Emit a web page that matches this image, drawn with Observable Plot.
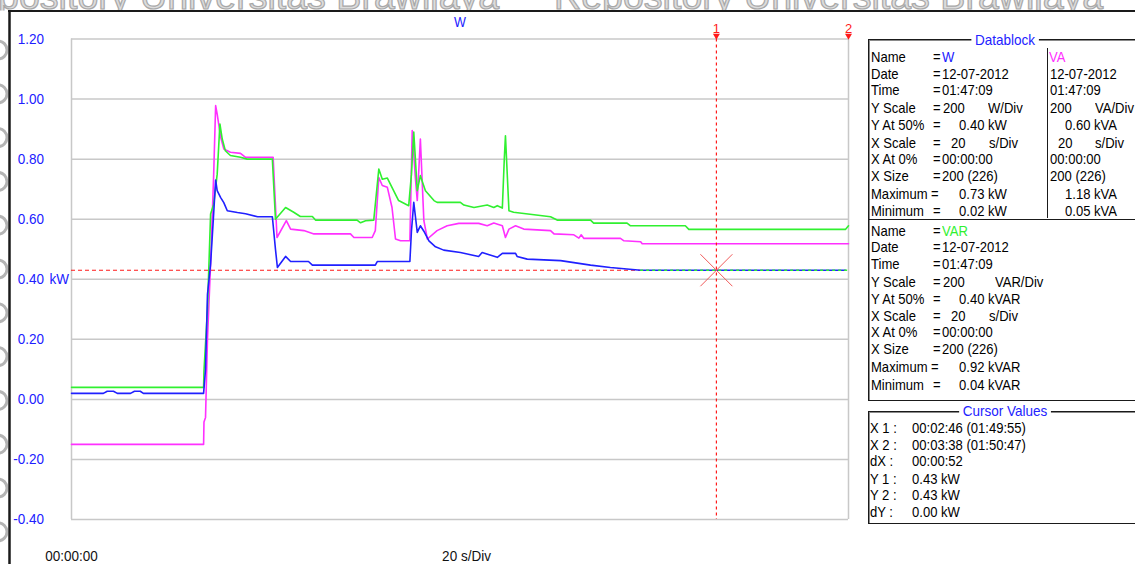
<!DOCTYPE html>
<html><head><meta charset="utf-8">
<script src="https://cdn.jsdelivr.net/npm/d3@7"></script>
<script src="https://cdn.jsdelivr.net/npm/@observablehq/plot@0.6"></script>
<style>
body{margin:0;background:#fff;}
#wrap{position:relative;width:1135px;height:564px;overflow:hidden;background:#fff;font-family:"Liberation Sans",Arial,sans-serif;}
#chart{position:absolute;left:0;top:0;}
#deco{position:absolute;left:0;top:0;pointer-events:none;}
.box{position:absolute;border:1px solid #1a1a1a;box-shadow:inset 1px 1px 0 #8a8a8a;}
.t{position:absolute;font-size:15px;line-height:17px;white-space:pre;color:#000;transform:scaleX(0.87);transform-origin:0 50%;}
.cap{position:absolute;font-size:15px;line-height:15px;color:#2222ff;background:#fff;padding:0 4px;transform:translateX(-50%) scaleX(0.9);white-space:pre;}
.hl{position:absolute;background:#1a1a1a;}
</style></head><body><div id="wrap"><div id="chart"></div></div>
<script>
// ---------- data (time in seconds, values as read) ----------
const wTime  = [0, 8.2, 9.2, 10.8, 11.8, 15.2, 16.2, 17.7, 18.5, 34.0, 34.5, 35.0, 35.8, 36.6, 37.1, 37.5, 38.4, 39.2, 40.1, 42.7, 44.8, 47.9, 51.7, 52.5, 53.0, 55.1, 56.4, 61.0, 62.0, 78.2, 78.7, 87.1, 87.5, 88.1, 89.0, 89.8, 90.7, 92.0, 93.7, 95.8, 100.1, 104.8, 105.7, 109.6, 110.9, 114.3, 114.7, 117.3, 125.9, 133.6, 138.7, 146.5, 199.2];
const wValue = [0.02, 0.02, 0.027, 0.027, 0.02, 0.02, 0.027, 0.027, 0.02, 0.02, 0.10, 0.35, 0.45, 0.62, 0.73, 0.695, 0.672, 0.655, 0.628, 0.622, 0.618, 0.608, 0.608, 0.50, 0.439, 0.476, 0.459, 0.459, 0.447, 0.447, 0.459, 0.459, 0.56, 0.656, 0.556, 0.578, 0.560, 0.528, 0.508, 0.497, 0.489, 0.476, 0.489, 0.473, 0.486, 0.486, 0.476, 0.467, 0.462, 0.447, 0.439, 0.43, 0.43];

const vaTime  = [0, 34.0, 34.1, 34.5, 35.0, 35.8, 36.6, 37.1, 37.5, 38.4, 39.2, 40.9, 43.5, 44.8, 51.9, 52.9, 55.3, 56.4, 59.8, 62.4, 71.8, 72.7, 77.4, 78.2, 79.1, 80.0, 81.3, 82.5, 83.4, 84.7, 87.1, 87.7, 88.5, 89.0, 89.8, 90.7, 91.6, 94.1, 96.7, 99.7, 104.8, 107.0, 108.7, 110.9, 111.7, 112.6, 114.3, 116.4, 123.3, 124.2, 129.3, 130.6, 131.2, 131.9, 141.3, 142.2, 146.5, 146.9, 200];
const vaValue = [0.05, 0.05, 0.125, 0.14, 0.40, 0.65, 0.95, 1.178, 1.15, 1.073, 1.034, 1.023, 1.019, 1.006, 1.006, 0.739, 0.795, 0.767, 0.762, 0.751, 0.751, 0.739, 0.739, 0.762, 0.939, 0.912, 0.906, 0.839, 0.734, 0.728, 0.728, 1.095, 0.939, 0.862, 1.067, 0.795, 0.734, 0.762, 0.778, 0.786, 0.786, 0.778, 0.787, 0.778, 0.739, 0.767, 0.778, 0.767, 0.762, 0.751, 0.748, 0.737, 0.748, 0.736, 0.736, 0.728, 0.725, 0.718, 0.718];

const varTime  = [0, 34.0, 34.1, 35.0, 35.8, 36.6, 37.5, 38.2, 38.8, 39.6, 40.9, 43.5, 45.2, 51.7, 52.5, 55.1, 57.2, 58.9, 62.0, 62.8, 73.5, 74.4, 75.7, 77.8, 79.1, 80.0, 81.3, 84.2, 86.8, 87.5, 88.1, 89.0, 89.8, 91.1, 93.3, 94.1, 100.1, 101.0, 103.6, 107.0, 108.7, 109.6, 110.9, 111.4, 111.7, 112.6, 113.8, 123.3, 125.0, 133.6, 134.4, 143.0, 143.9, 158.0, 158.9, 199.2, 200];
const varValue = [0.04, 0.04, 0.095, 0.3, 0.617, 0.65, 0.75, 0.917, 0.867, 0.828, 0.812, 0.806, 0.80, 0.80, 0.60, 0.639, 0.623, 0.609, 0.609, 0.597, 0.597, 0.588, 0.595, 0.597, 0.767, 0.733, 0.737, 0.662, 0.645, 0.75, 0.89, 0.695, 0.745, 0.695, 0.662, 0.656, 0.656, 0.647, 0.639, 0.647, 0.639, 0.645, 0.637, 0.80, 0.878, 0.628, 0.623, 0.608, 0.597, 0.597, 0.587, 0.587, 0.578, 0.578, 0.566, 0.566, 0.578];

const yTicks = [-0.4, -0.2, 0, 0.2, 0.4, 0.6, 0.8, 1.0, 1.2];
const xDomain = [0, 200];
const unitTick = 0.4, unitLabel = "kW";
const chartTitle = "W";
const xStartLabel = "00:00:00";
const xScaleLabel = "20 s/Div";
const watermark = "Repository Universitas Brawijaya";

// datablock
const blockLabels = ["Name","Date","Time","Y Scale","Y At 50%","X Scale","X At 0%","X Size","Maximum","Minimum"];
const wBlock   = ["W","12-07-2012","01:47:09","200","0.40 kW","20","00:00:00","200 (226)","0.73 kW","0.02 kW"];
const vaBlock  = ["VA","12-07-2012","01:47:09","200","0.60 kVA","20","00:00:00","200 (226)","1.18 kVA","0.05 kVA"];
const varBlock = ["VAR","12-07-2012","01:47:09","200","0.40 kVAR","20","00:00:00","200 (226)","0.92 kVAR","0.04 kVAR"];
const wUnits = ["W/Div","s/Div"], vaUnits = ["VA/Div","s/Div"], varUnits = ["VAR/Div","s/Div"];
const cursorLabels = ["X 1 :","X 2 :","dX :","Y 1 :","Y 2 :","dY :"];
const cursorValues = ["00:02:46 (01:49:55)","00:03:38 (01:50:47)","00:00:52","0.43 kW","0.43 kW","0.00 kW"];

// ---------- derived ----------
const COL = {W:"#2020ff", VA:"#ff30ff", VAR:"#30f030", red:"#ff1a1a"};
const toSec = s => s.split(":").map(Number).reduce((a,b)=>a*60+b,0);
const cursor1 = toSec(cursorValues[0].slice(0,8));
const cursor2 = Math.min(toSec(cursorValues[1].slice(0,8)), xDomain[1]);
const cursorY = parseFloat(cursorValues[3]);
const vaOffset = parseFloat(vaBlock[4]) - parseFloat(wBlock[4]);

const W   = wTime.map((t,i)=>({t, v:wValue[i]}));
const VA  = vaTime.map((t,i)=>({t, v:vaValue[i] - vaOffset}));
const VAR = varTime.map((t,i)=>({t, v:varValue[i]}));
const settleT = W.find(d => d.t > 60 && d.v <= cursorY + 0.001).t;
const cursors = [{x:cursor1, label:"1"}, {x:cursor2, label:"2"}];

const plot = Plot.plot({
  width: 860, height: 564,
  marginLeft: 71, marginRight: 12, marginTop: 38.5, marginBottom: 45,
  x: {domain: xDomain, axis: null},
  y: {domain: [yTicks[0], yTicks[yTicks.length-1]], axis: null},
  style: {fontFamily: '"Liberation Sans", Arial, sans-serif', fontSize: "15px", background: "white", overflow: "visible"},
  marks: [
    Plot.ruleY(yTicks, {stroke: "#c8c8c8", strokeWidth: 1.5}),
    Plot.ruleX(xDomain, {stroke: "#c8c8c8", strokeWidth: 1.5}),
    Plot.axisY(yTicks, {tickSize: 0, tickPadding: 27.5, tickFormat: d => d.toFixed(2), color: COL.W, label: null, fontSize: 15}),
    Plot.text([unitLabel], {x: () => xDomain[0], y: () => unitTick, dx: -22, textAnchor: "start", fill: COL.W, fontSize: 15}),
    Plot.text([chartTitle], {frameAnchor: "top", lineAnchor: "middle", dy: -16.5, fill: COL.W, fontSize: 14}),
    Plot.text([xStartLabel], {frameAnchor: "bottom-left", lineAnchor: "middle", textAnchor: "middle", dy: 37, fill: "#111", fontSize: 15}),
    Plot.text([xScaleLabel], {frameAnchor: "bottom", lineAnchor: "middle", dx: 6.5, dy: 37, fill: "#111", fontSize: 15}),
    Plot.ruleY([cursorY], {x1: xDomain[0], x2: settleT, stroke: COL.red, strokeWidth: 1.2, strokeDasharray: "4,3"}),
    Plot.line(VA,  {x: "t", y: "v", stroke: COL.VA,  strokeWidth: 1.6}),
    Plot.line(VAR, {x: "t", y: "v", stroke: COL.VAR, strokeWidth: 1.6}),
    Plot.line(W,   {x: "t", y: "v", stroke: COL.W,   strokeWidth: 1.6}),
    Plot.ruleY([cursorY], {x1: settleT, x2: xDomain[1], stroke: COL.VAR, strokeWidth: 1.4, strokeDasharray: "3,3"}),
    Plot.ruleX([cursor1], {stroke: COL.red, strokeWidth: 1.2, strokeDasharray: "3,3"}),
    Plot.dot([{x: cursor1, y: cursorY}], {x: "x", y: "y", symbol: "times", r: 14.6, stroke: "#f05a5a", strokeWidth: 1}),
    Plot.text(cursors, {x: "x", text: "label", frameAnchor: "top", lineAnchor: "middle", dy: -10, fill: COL.red, fontSize: 13}),
    Plot.dot(cursors, {x: "x", frameAnchor: "top", dy: -3.2, symbol: "triangle", rotate: 180, r: 2.6, fill: COL.red, stroke: "none"})
  ]
});
const wrap = document.getElementById("wrap");
document.getElementById("chart").appendChild(plot);
// condense the plot's texts slightly (narrow UI font look)
plot.querySelectorAll("text").forEach(t => {
  const len = t.getComputedTextLength();
  if (len > 12) { t.setAttribute("textLength", (len * 0.9).toFixed(2)); t.setAttribute("lengthAdjust", "spacingAndGlyphs"); }
});

// ---------- decorations (watermark + window frame) ----------
const NS = "http://www.w3.org/2000/svg";
const deco = document.createElementNS(NS, "svg");
deco.setAttribute("id","deco"); deco.setAttribute("width",1135); deco.setAttribute("height",564);
let inner = `<defs><clipPath id="topclip"><rect x="0" y="0" width="1135" height="10.5"/></clipPath>
<clipPath id="leftclip"><rect x="0" y="0" width="8.5" height="564"/></clipPath></defs>
<g clip-path="url(#topclip)" font-family="Liberation Sans, Arial, sans-serif" font-size="37.6" fill="#dcdcdc" stroke="#a8a8a8" stroke-width="1.2">
<text x="-50" y="9">${watermark}</text>
<text x="554" y="9">${watermark}</text></g>
<g clip-path="url(#leftclip)" fill="none" stroke="#b4b4b4" stroke-width="3">`;
for (let i = 0; i < 12; i++) inner += `<circle cx="-2" cy="${50 + i*43.8}" r="9"/>`;
inner += `</g>
<line x1="8" y1="11" x2="1135" y2="11" stroke="#1a1a1a" stroke-width="2.2"/>
<line x1="9.5" y1="10" x2="9.5" y2="564" stroke="#1a1a1a" stroke-width="2.5"/>`;
deco.innerHTML = inner;
wrap.appendChild(deco);

// ---------- datablock panels ----------
function el(cls, css, text, color){
  const d = document.createElement("div"); d.className = cls;
  Object.assign(d.style, css); d.textContent = text; if (color) d.style.color = color;
  wrap.appendChild(d); return d;
}
const T = (x, yc, s, color) => el("t", {left: x + "px", top: (yc - 8.5) + "px"}, s, color);
el("box", {left:"868px", top:"39px", width:"300px", height:"360px"}, "");
el("box", {left:"868px", top:"410.5px", width:"300px", height:"111px"}, "");
el("hl", {left:"868px", top:"218.5px", width:"300px", height:"1.3px"}, "");
el("hl", {left:"1046.5px", top:"48px", width:"1.3px", height:"170px"}, "");
el("cap", {left:"1005px", top:"31.5px"}, "Datablock");
el("cap", {left:"1005px", top:"403px"}, "Cursor Values");

const rowY1 = [56, 73, 89.5, 107, 124.3, 142, 158.5, 175.8, 193.3, 210.5];
const rowY2 = [230, 246.8, 263.4, 281.5, 298, 315, 331.8, 348.5, 366.6, 384];
const eqX   = [932.5,932.5,932.5,932.5,932.5,932.5,932.5,932.5,930.5,932.5];
const valX  = [941.5,941.5,941.5,943,958.5,950.5,941.5,941.5,958.5,958.5];
const rvalX = [1049,1049.5,1049.5,1049.5,1065,1058,1049.5,1049.5,1065,1065];
function section(rows, block, units, unitX, color, right, rightUnits){
  blockLabels.forEach((lab, i) => {
    T(871, rows[i], lab);
    T(eqX[i], rows[i], "=");
    T(valX[i], rows[i], block[i], i === 0 ? color : null);
    if (right) T(rvalX[i], rows[i], right[i], i === 0 ? COL.VA : null);
  });
  T(unitX, rows[3], units[0]); T(989, rows[5], units[1]);
  if (right) { T(1095, rows[3], rightUnits[0]); T(1095, rows[5], rightUnits[1]); }
}
section(rowY1, wBlock, wUnits, 988, COL.W, vaBlock, vaUnits);
section(rowY2, varBlock, varUnits, 995, COL.VAR, null, null);

const cRows = [427.3, 444, 460.7, 478, 494.5, 511.7];
cursorLabels.forEach((lab, i) => { T(870, cRows[i], lab); T(911.5, cRows[i], cursorValues[i]); });
</script></body></html>
